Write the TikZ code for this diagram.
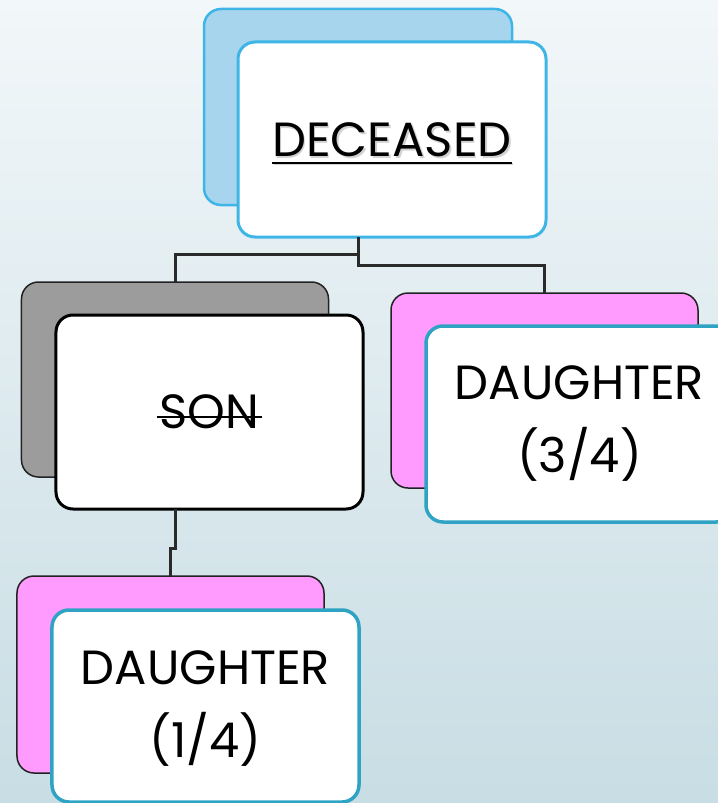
\documentclass[tikz,border=0pt]{standalone}
\usepackage{fontspec}
\setmainfont{Poppins}
\usetikzlibrary{calc}
\definecolor{bgtop}{HTML}{F2F7F9}
\definecolor{bgbot}{HTML}{C8DDE4}
\definecolor{skyfill}{HTML}{A8D5EE}
\definecolor{skyline}{HTML}{3DB5E6}
\definecolor{greyfill}{HTML}{9C9C9C}
\definecolor{pinkfill}{HTML}{FF9BFF}
\definecolor{tealline}{HTML}{2FA3C3}
\definecolor{darkline}{HTML}{222222}
\definecolor{connline}{HTML}{2A2A2A}
\begin{document}
\begin{tikzpicture}[x=1bp,y=-1bp,
  box/.style={rounded corners=17bp, inner sep=0pt, outer sep=0pt,
    minimum width=307bp, minimum height=195bp},
  backsky/.style={box, fill=skyfill, draw=skyline, line width=2.5bp},
  frontsky/.style={box, fill=white, draw=skyline, line width=3bp},
  backgrey/.style={box, fill=greyfill, draw=darkline, line width=1.5bp},
  frontblack/.style={box, fill=white, draw=black, line width=3bp},
  backpink/.style={box, fill=pinkfill, draw=darkline, line width=1.5bp},
  frontteal/.style={box, fill=white, draw=tealline, line width=3.5bp},
  word/.style={inner sep=0pt, outer sep=0pt, text=black,
    font=\fontsize{48bp}{73bp}\selectfont},
  label/.style={word, align=center},
  rule/.style={line width=2bp},
  conn/.style={draw=connline, line width=3bp}]
\useasboundingbox (0,0) rectangle (718,803);
\shade[top color=bgtop, bottom color=bgbot] (0,0) rectangle (718,803);

% DECEASED
\node[backsky, minimum width=308bp, minimum height=196bp] (dback) at (358,107) {};
\node[frontsky, minimum width=308bp] (dfront) at (392,139.5) {};
\node[word, text=black!35, opacity=0.5] (dshadow) at (393.5,141.5) {DECEASED};
\draw[rule, draw=black!35, opacity=0.5] ($(dshadow.base west)+(0,6)$) -- ($(dshadow.base east)+(0,6)$);
\node[word] (dtext) at (392,140) {DECEASED};
\draw[rule] ($(dtext.base west)+(0,6)$) -- ($(dtext.base east)+(0,6)$);

% SON
\node[backgrey] (sback) at (175,379.5) {};
\node[frontblack, minimum height=194bp] (sfront) at (209.5,412) {};
\node[word] (stext) at (sfront.center) {SON};
\draw[rule] ($(stext.base west)+(-3,-12)$) -- ($(stext.base east)+(3,-12)$);

% DAUGHTER (3/4)
\node[backpink] (pback) at (544.5,390.5) {};
\node[frontteal, minimum height=196bp] (pfront) at (579.5,424) {};
\node[label] (ptext) at (pfront.center) {DAUGHTER\\(3/4)};

% DAUGHTER (1/4)
\node[backpink, minimum height=197bp] (qback) at (170.5,674.5) {};
\node[frontteal, minimum height=192bp] (qfront) at (205.5,706) {};
\node[label] (qtext) at ($(qfront.center)+(0,2.5)$) {DAUGHTER\\(1/4)};

% connectors
\draw[conn] (dback.center |- dfront.south) -- ++(0,17) -| (sback.north);
\draw[conn] (dback.center |- dfront.south) -- ++(0,28) -| (pback.north);
\draw[conn] (sback.center |- sfront.south) -- ++(0,39) -| (qback.north);
\end{tikzpicture}
\end{document}
